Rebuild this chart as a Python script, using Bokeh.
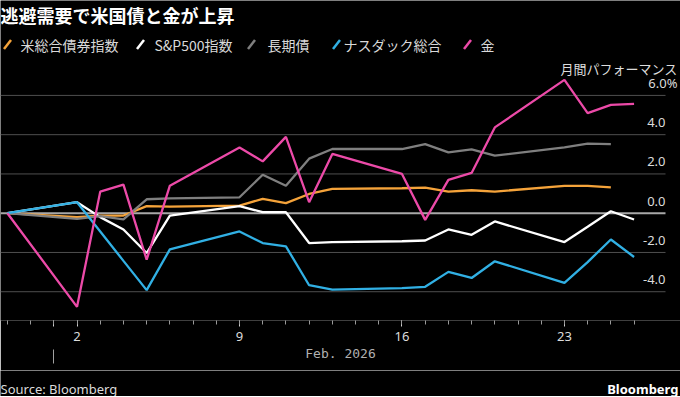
import pandas as pd
from bokeh.plotting import figure
from bokeh.layouts import column
from bokeh.models import (ColumnDataSource, Range1d, DatetimeAxis, FixedTicker)
from bokeh.core.properties import value
from bokeh.embed import file_html
from bokeh.resources import INLINE

# ---------------- data ----------------
dates = ["2026-01-30",
         "2026-02-02", "2026-02-03", "2026-02-04", "2026-02-05", "2026-02-06",
         "2026-02-09", "2026-02-10", "2026-02-11", "2026-02-12", "2026-02-13",
         "2026-02-16", "2026-02-17", "2026-02-18", "2026-02-19", "2026-02-20",
         "2026-02-23", "2026-02-24", "2026-02-25", "2026-02-26"]

bond_index = [0, -0.20, -0.12, -0.12, 0.36, 0.33, 0.39, 0.73, 0.51, 0.98, 1.24,
              1.27, 1.30, 1.10, 1.17, 1.10, 1.39, 1.39, 1.32]
sp500 = [0, 0.56, -0.20, -0.83, -2.03, -0.12, 0.36, 0.05, 0.05, -1.52, -1.47,
         -1.43, -1.39, -0.83, -1.10, -0.42, -1.47, -0.69, 0.10, -0.32]
long_bond = [0, -0.29, -0.15, -0.32, 0.71, 0.76, 0.81, 1.96, 1.40, 2.78, 3.27,
             3.27, 3.52, 3.10, 3.25, 2.93, 3.35, 3.54, 3.52]
nasdaq = [0, 0.56, -0.93, -2.43, -3.92, -1.84, -0.93, -1.52, -1.69, -3.67, -3.89,
          -3.82, -3.75, -2.99, -3.30, -2.45, -3.55, -2.49, -1.34, -2.23]
gold = [0, -4.77, 1.10, 1.46, -2.37, 1.40, 3.35, 2.64, 3.89, 0.56, 3.02,
        2.00, -0.34, 1.70, 2.05, 4.37, 6.79, 5.10, 5.52, 5.57]

series_names = ["米総合債券指数", "S&P500指数", "長期債", "ナスダック総合", "金"]
series_values = [bond_index, sp500, long_bond, nasdaq, gold]
series_colors = ["#f5a33a", "#ffffff", "#7f7f7f", "#31b0e4", "#ec4aa8"]

y_ticks = [-4, -2, 0, 2, 4, 6]
y_tick_labels = ["-4.0", "-2.0", "0.0", "2.0", "4.0", "6.0%"]

x_tick_dates = ["2026-02-01", "2026-02-02", "2026-02-09", "2026-02-16", "2026-02-23"]
x_tick_labels = ["", "2", "9", "16", "23"]
month_start = "2026-02-01"
month_label = "Feb. 2026"

title_text = "逃避需要で米国債と金が上昇"
unit_text = "月間パフォーマンス"
source_text = "Source: Bloomberg"
brand_text = "Bloomberg"

# ---------------- layout helpers (pixel layout -> data coords) ----------------
DAY = 86400000.0
def ms(s):
    return pd.Timestamp(s).value / 1e6

W = 680
H_MAIN, H_FOOT = 370, 26
FRAME_B = 320
PX_DAY = 23.21
FIRST_PX = 6.9
ZERO_PY, PX_UNIT = 212.7, 19.63

X0 = ms(dates[0]) - FIRST_PX / PX_DAY * DAY
def x_at(px):
    return X0 + px / PX_DAY * DAY
def y_at(py):
    return (ZERO_PY - py) / PX_UNIT

BG = "black"
TXT = "#dcdcdc"
JP = value("Noto Sans CJK JP")
LAT = value("Noto Sans")

p = figure(width=W, height=H_MAIN, output_backend="svg", toolbar_location=None,
           x_axis_type=None, y_axis_type=None,
           x_range=Range1d(x_at(0), x_at(W)),
           y_range=Range1d(y_at(FRAME_B), y_at(0)),
           min_border_left=0, min_border_right=0, min_border_top=0,
           min_border_bottom=H_MAIN - FRAME_B)
p.background_fill_color = BG
p.border_fill_color = BG
p.outline_line_color = None

# gridlines (end short of the right-hand labels)
GRID_END = 665
grid_y = [t for t in y_ticks if t != 0]
p.segment(x0=[x_at(0)] * len(grid_y), x1=[x_at(GRID_END)] * len(grid_y),
          y0=grid_y, y1=grid_y, line_color="#4f4f4f", line_width=1)
p.segment(x0=[x_at(0)], x1=[x_at(GRID_END)], y0=[0], y1=[0],
          line_color="#a8a8a8", line_width=2)

# lines
xd = pd.to_datetime(dates)
for name, vals, col in zip(series_names, series_values, series_colors):
    src = ColumnDataSource(dict(x=xd[:len(vals)], y=vals))
    p.line("x", "y", source=src, line_color=col, line_width=2.3)

# y labels, floating above each gridline at the right
LABEL_RISE = 12 / PX_UNIT
lab_src = ColumnDataSource(dict(
    x=[x_at(GRID_END)] * len(y_ticks), y=[t + LABEL_RISE for t in y_ticks],
    text=y_tick_labels,
    xoff=[12 if t.endswith("%") else 0 for t in y_tick_labels]))
p.text(x="x", y="y", text="text", source=lab_src, x_offset="xoff",
       text_align="right", text_baseline="middle",
       text_font=LAT, text_font_size="13px", text_color=TXT)
p.text(x=[x_at(677)], y=[y_at(68)], text=[unit_text], text_align="right",
       text_baseline="middle", text_font=JP, text_font_size="13px", text_color=TXT)

# title
p.text(x=[x_at(0)], y=[y_at(14)], text=[title_text], text_baseline="middle",
       text_font=JP, text_font_size="18px", text_font_style="bold", text_color="white")

# legend (slanted strokes + labels)
leg_glyph_px = [7, 140, 251, 336, 467]
leg_text_px = [20, 154, 267, 343, 480]
p.segment(x0=[x_at(g - 3.5) for g in leg_glyph_px], y0=[y_at(48.5)] * 5,
          x1=[x_at(g + 3.5) for g in leg_glyph_px], y1=[y_at(39.5)] * 5,
          line_color=series_colors, line_width=2.5)
p.text(x=[x_at(t) for t in leg_text_px], y=[y_at(44)] * 5, text=series_names,
       text_baseline="middle", text_font=JP, text_font_size="14px", text_color="#d9d9d9")

# x axis
minor = [ms(dates[0]) + i * DAY for i in range(28)]
major = [ms(d) for d in x_tick_dates]
xax = DatetimeAxis(ticker=FixedTicker(ticks=major, minor_ticks=minor))
xax.major_label_overrides = {m: l for m, l in zip(major, x_tick_labels)}
xax.axis_line_color = None
xax.major_tick_in = 0
xax.major_tick_out = 6
xax.minor_tick_in = 0
xax.minor_tick_out = 4
xax.major_tick_line_color = "#d0d0d0"
xax.minor_tick_line_color = "#9a9a9a"
xax.major_label_text_color = TXT
xax.major_label_text_font = "Noto Sans"
xax.major_label_text_font_size = "13px"
xax.major_label_standoff = 5
xax.axis_label = month_label
xax.axis_label_text_font = "DejaVu Sans Mono"
xax.axis_label_text_font_size = "13px"
xax.axis_label_text_font_style = "normal"
xax.axis_label_text_color = "#b0b0b0"
xax.axis_label_standoff = 2
p.add_layout(xax, "below")

sep = DatetimeAxis(ticker=FixedTicker(ticks=[ms(month_start)], minor_ticks=[]))
sep.major_label_overrides = {ms(month_start): ""}
sep.major_label_text_font_size = "0px"
sep.axis_line_color = None
sep.major_tick_in = 14
sep.major_tick_out = 0
sep.minor_tick_in = 0
sep.minor_tick_out = 0
sep.major_tick_line_color = "#a0a0a0"
sep.major_label_standoff = 0
p.add_layout(sep, "below")

# footer
f = figure(width=W, height=H_FOOT, output_backend="svg", toolbar_location=None,
           x_axis_type=None, y_axis_type=None,
           x_range=Range1d(0, W), y_range=Range1d(H_FOOT, 0), min_border=0)
f.background_fill_color = BG
f.border_fill_color = BG
f.outline_line_color = None
f.text(x=[0], y=[18], text=[source_text], text_baseline="alphabetic",
       text_font=LAT, text_font_size="13px", text_color=TXT)
f.text(x=[678], y=[18], text=[brand_text], text_align="right", text_baseline="alphabetic",
       text_font=LAT, text_font_size="13px", text_font_style="bold", text_color="white")

layout = column(p, f, spacing=0)
open("out.html", "w").write(file_html(layout, INLINE))
